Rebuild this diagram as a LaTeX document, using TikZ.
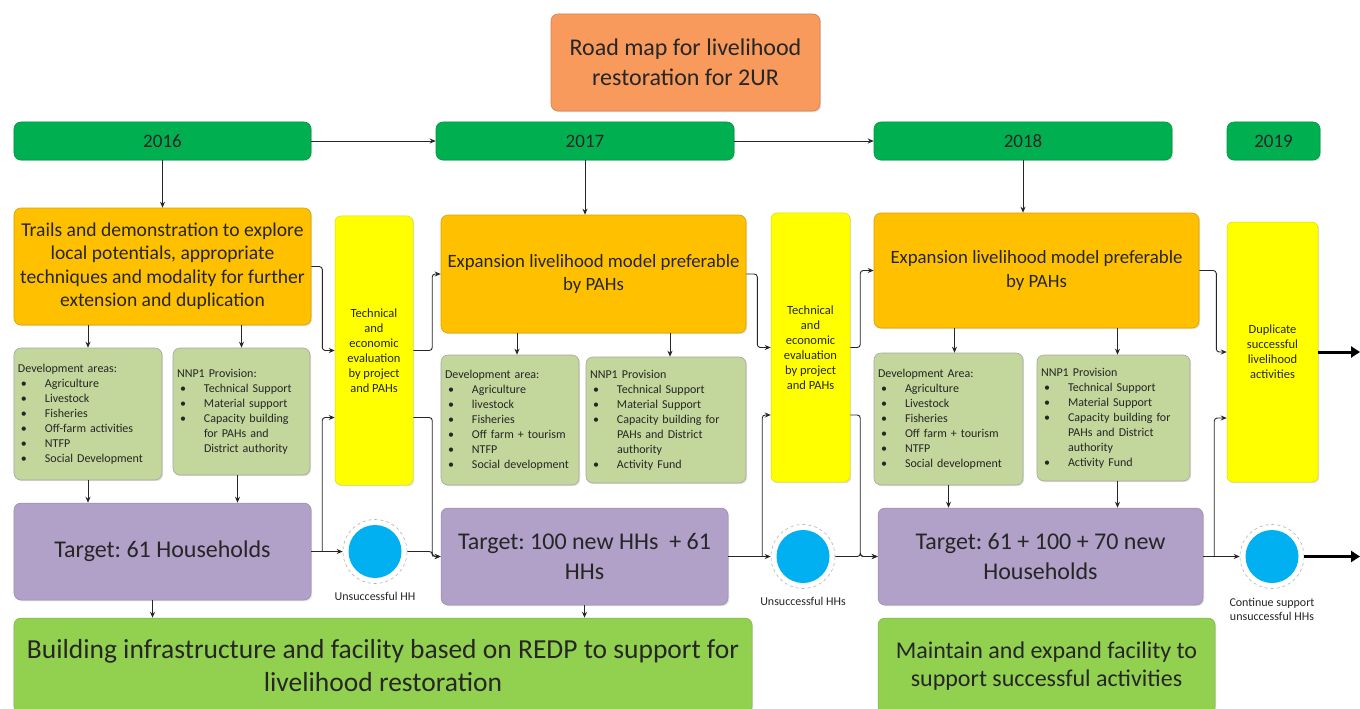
\documentclass[tikz,border=0pt]{standalone}
\usepackage{fontspec}
\setmainfont{Carlito}
\usetikzlibrary{arrows.meta,calc,shadows}
\frenchspacing
\definecolor{titleor}{HTML}{F79A5C}
\definecolor{yeargreen}{HTML}{00B050}
\definecolor{boxorange}{HTML}{FFC000}
\definecolor{boxyellow}{HTML}{FFFF00}
\definecolor{olivebox}{HTML}{C3D69B}
\definecolor{lilac}{HTML}{B1A0C7}
\definecolor{bottomgreen}{HTML}{92D050}
\definecolor{dotblue}{HTML}{00B0F0}
\definecolor{ink}{HTML}{262626}
\newcommand{\bitem}{\makebox[27bp][l]{\hspace*{3bp}\textbullet}}
\newcommand{\bcont}{\hspace*{27bp}}
\newcommand{\fs}[2]{\fontsize{#1bp}{#2bp}\selectfont}
\begin{document}
\begin{tikzpicture}[x=1bp,y=-1bp,
  box/.style={rectangle, rounded corners=7bp, inner sep=0pt, text=ink, align=center,
    drop shadow={shadow xshift=1.2bp, shadow yshift=-1.2bp, opacity=0.22}},
  titlebox/.style={box, fill=titleor, draw=titleor!85!black, line width=0.6bp, font=\fs{24}{29.5}},
  yearbox/.style={box, fill=yeargreen, draw=yeargreen!85!black, line width=0.6bp, minimum height=38bp, font=\fs{19}{23}},
  orangebox/.style={box, fill=boxorange, draw=boxorange!85!black, line width=0.6bp, font=\fs{18.8}{23.5}},
  yellowbox/.style={box, rounded corners=6bp, fill=boxyellow, draw=boxyellow!85!black, line width=0.5bp, font=\fs{12.5}{15}},
  olive/.style={box, fill=olivebox, draw=black!35, line width=0.6bp, align=left, inner xsep=4bp, font=\fs{12}{15}},
  purplebox/.style={box, fill=lilac, draw=lilac!85!black, line width=0.5bp, font=\fs{24}{29.5}},
  bottombox/.style={box, fill=bottomgreen, draw=bottomgreen!85!black, line width=0.5bp, font=\fs{27.5}{33}},
  dot/.style={circle, minimum size=64bp, inner sep=0pt, draw=gray!60, dashed, line width=0.6bp, fill=white,
    path picture={\fill[dotblue] (path picture bounding box.center) circle (26.5bp);}},
  lbl/.style={text=ink, align=center, inner sep=0pt, font=\fs{12}{14}},
  conn/.style={draw=black!85, line width=0.9bp, rounded corners=3bp, -{Stealth[length=6bp,width=5bp]}},
  thick arrow/.style={draw=black, line width=3bp, -{Triangle[length=9bp,width=11bp]}}
]
\clip (0,0) rectangle (1360,708);
\fill[white] (0,0) rectangle (1360,708);

% title and years
\node[titlebox, minimum width=269bp, minimum height=97bp] (title) at (685.5,62.5)
  {Road map for livelihood\\restoration for 2UR};
\node[yearbox, minimum width=297bp] (yr16) at (162.5,141) {2016};
\node[yearbox, minimum width=298bp] (yr17) at (585,141) {2017};
\node[yearbox, minimum width=298bp] (yr18) at (1023,141) {2018};
\node[yearbox, minimum width=93bp] (yr19) at (1273.5,141) {2019};

% orange boxes
\node[orangebox, minimum width=297bp, minimum height=117bp, font=\fs{19.6}{23.5}] (O1) at (162.5,266.5)
  {Trails and demonstration to explore\\local potentials, appropriate\\techniques and modality for further\\extension and duplication};
\node[orangebox, minimum width=305bp, minimum height=118bp] (O2) at (593.5,274)
  {Expansion livelihood model preferable\\by PAHs};
\node[orangebox, minimum width=325bp, minimum height=115bp] (O3) at (1036.5,270.5)
  {Expansion livelihood model preferable\\by PAHs};

% yellow boxes
\node[yellowbox, minimum width=78bp, minimum height=269bp] (Y1) at (374,350.5)
  {Technical\\and\\economic\\evaluation\\by project\\and PAHs};
\node[yellowbox, minimum width=79bp, minimum height=269bp] (Y2) at (810.5,347.5)
  {Technical\\and\\economic\\evaluation\\by project\\and PAHs};
\node[yellowbox, minimum width=91bp, minimum height=260bp] (Y3) at (1272.5,352)
  {Duplicate\\successful\\livelihood\\activities};

% olive boxes
\node[olive, minimum width=148bp, minimum height=132bp, text width=140bp] (G1a) at (88,414)
  {Development areas:\\\bitem Agriculture\\\bitem Livestock\\\bitem Fisheries\\\bitem Off-farm activities\\\bitem NTFP\\\bitem Social Development};
\node[olive, minimum width=137bp, minimum height=127bp, text width=129bp] (G1b) at (241.5,411.5)
  {NNP1 Provision:\\\bitem Technical Support\\\bitem Material support\\\bitem Capacity building\\\bcont for PAHs and\\\bcont District authority};
\node[olive, minimum width=138bp, minimum height=130bp, text width=130bp] (G2a) at (510,420)
  {Development area:\\\bitem Agriculture\\\bitem livestock\\\bitem Fisheries\\\bitem Off farm + tourism\\\bitem NTFP\\\bitem Social development};
\node[olive, minimum width=160bp, minimum height=126bp, text width=152bp] (G2b) at (666,420)
  {NNP1 Provision\\\bitem Technical Support\\\bitem Material Support\\\bitem Capacity building for\\\bcont PAHs and District\\\bcont authority\\\bitem Activity Fund};
\node[olive, minimum width=149bp, minimum height=132bp, text width=141bp] (G3a) at (948.5,419)
  {Development Area:\\\bitem Agriculture\\\bitem Livestock\\\bitem Fisheries\\\bitem Off farm + tourism\\\bitem NTFP\\\bitem Social development};
\node[olive, minimum width=153bp, minimum height=126bp, text width=145bp] (G3b) at (1113.5,418)
  {NNP1 Provision\\\bitem Technical Support\\\bitem Material Support\\\bitem Capacity building for\\\bcont PAHs and District\\\bcont authority\\\bitem Activity Fund};

% purple boxes
\node[purplebox, minimum width=297bp, minimum height=97bp] (P1) at (162.5,551.5)
  {Target: 61 Households};
\node[purplebox, minimum width=287bp, minimum height=97bp] (P2) at (584.5,556.5)
  {Target: 100 new HHs\ \ + 61\\HHs};
\node[purplebox, minimum width=325bp, minimum height=97bp] (P3) at (1040.5,556.5)
  {Target: 61 + 100 + 70 new\\Households};

% circles
\node[dot] (C1) at (375,551.5) {};
\node[dot] (C2) at (803,556.5) {};
\node[dot] (C3) at (1272,556.5) {};
\node[lbl] (C1l) at (375,596) {Unsuccessful HH};
\node[lbl] (C2l) at (803,601) {Unsuccessful HHs};
\node[lbl] (C3l) at (1272,609) {Continue support\\unsuccessful HHs};

% bottom boxes
\node[bottombox, minimum width=738bp, minimum height=96bp] (B1) at (383,666)
  {Building infrastructure and facility based on REDP to support for\\livelihood restoration};
\node[bottombox, minimum width=337bp, minimum height=96bp, font=\fs{24}{28}] (B2) at (1046.5,666)
  {Maintain and expand facility to\\support successful activities};

% free ends on the right edge
\coordinate (endA) at (1360,352);
\coordinate (endB) at (1360,556.5);

% year links
\draw[conn] (yr16) -- (yr17);
\draw[conn] (yr17) -- (yr18);
\draw[conn] (yr16.south) -- (O1.north);
\draw[conn] (yr17.south) -- (yr17.south |- O2.north);
\draw[conn] (yr18.south) -- (yr18.south |- O3.north);

% orange -> olive
\draw[conn] (G1a.north |- O1.south) -- (G1a.north);
\draw[conn] (G1b.north |- O1.south) -- (G1b.north);
\draw[conn] ([xshift=7bp]G2a.north |- O2.south) -- ([xshift=7bp]G2a.north);
\draw[conn] ([xshift=4bp]G2b.north |- O2.south) -- ([xshift=4bp]G2b.north);
\draw[conn] ([xshift=6bp]G3a.north |- O3.south) -- ([xshift=6bp]G3a.north);
\draw[conn] ([xshift=4bp]G3b.north |- O3.south) -- ([xshift=4bp]G3b.north);

% olive -> purple
\draw[conn] (G1a.south) -- (G1a.south |- P1.north);
\draw[conn] ([xshift=-4bp]G1b.south) -- ([xshift=-4bp]G1b.south |- P1.north);
\draw[conn] (G3a.south) -- (G3a.south |- P3.north);
\draw[conn] ([xshift=4bp]G3b.south) -- ([xshift=4bp]G3b.south |- P3.north);

% purple -> bottom
\draw[conn] ([xshift=-10bp]P1.south) -- ([xshift=-10bp]P1.south |- B1.north);
\draw[conn] (P2.south) -- (P2.south |- B1.north);

% stage 1
\draw[conn] (O1.east) -- ++(11,0) |- (Y1.west);
\draw[conn] (P1.east) -- (C1.west);
\draw[conn] ($(P1.east)+(11,0)$) |- ($(Y1.west)+(0,67)$);
\draw[conn] (Y1.east) -- ++(19,0) |- (O2.west);
\draw[conn] ($(Y1.east)+(0,67)$) -- ++(19,0) |- (P2.west);
\draw[conn] (C1.east) -- ++(25,0) |- (P2.west);

% stage 2
\draw[conn] (O2.east) -- ++(11,0) |- (Y2.west);
\draw[conn] (P2.east) -- (C2.west);
\draw[conn] ($(P2.east)+(34,0)$) |- ($(Y2.west)+(0,67.5)$);
\draw[conn] (Y2.east) -- ++(10,0) |- (O3.west);
\draw[conn] ($(Y2.east)+(0,67.5)$) -- ++(10,0) |- (P3.west);
\draw[conn] (C2.east) -- ++(25,0) |- (P3.west);

% stage 3
\draw[conn] (O3.east) -- ++(17,0) |- (Y3.west);
\draw[conn] (P3.east) -- (C3.west);
\draw[conn] ($(P3.east)+(11,0)$) |- ($(Y3.west)+(0,66)$);
\draw[thick arrow] (Y3.east) -- (endA);
\draw[thick arrow] (C3.east) -- (endB);
\end{tikzpicture}
\end{document}
